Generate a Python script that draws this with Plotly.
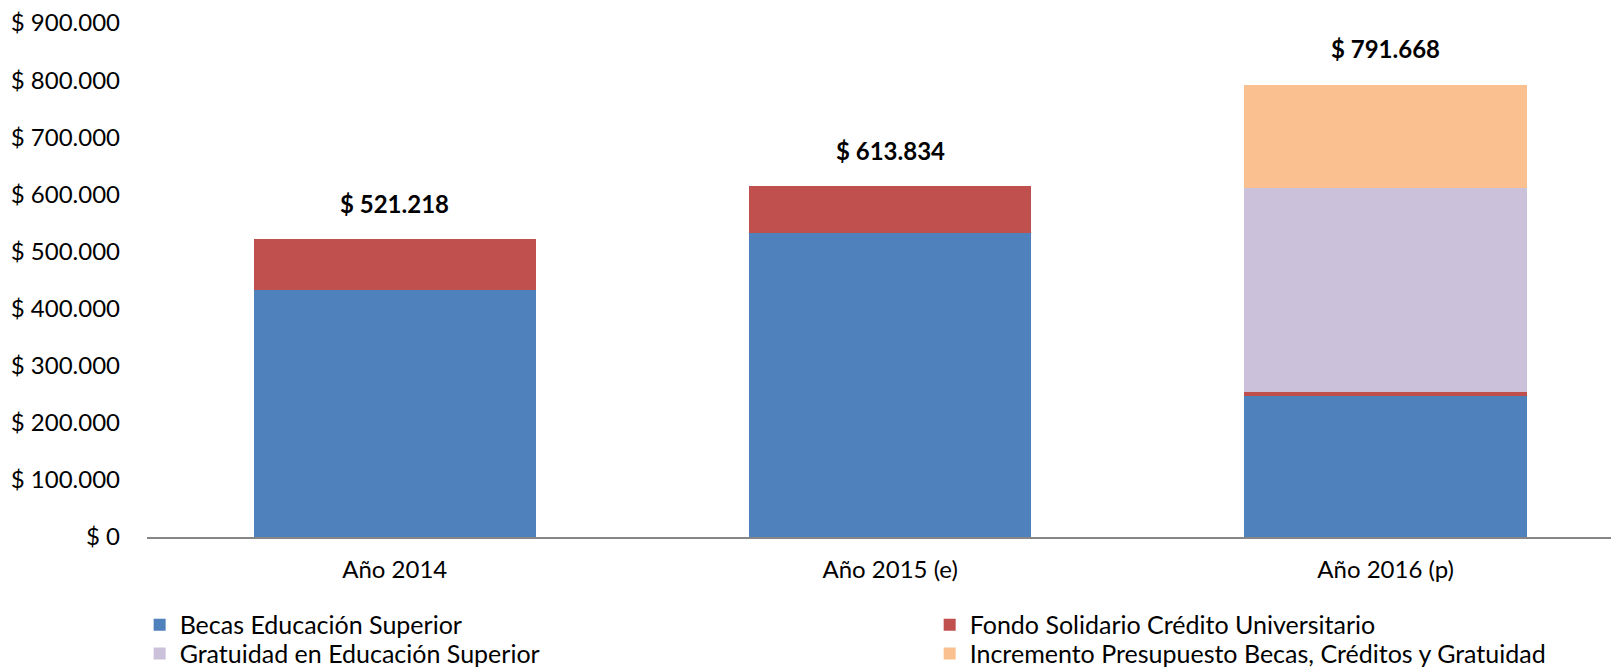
import plotly.graph_objects as go

categories = ["Año 2014", "Año 2015 (e)", "Año 2016 (p)"]
becas = [432870, 532500, 247000]
fondo = [88348, 81334, 7000]
gratuidad = [0, 0, 357700]
incremento = [0, 0, 179968]
series_names = [
    "Becas Educación Superior",
    "Fondo Solidario Crédito Universitario",
    "Gratuidad en Educación Superior",
    "Incremento Presupuesto Becas, Créditos y Gratuidad",
]
colors = ["#4F81BD", "#C0504D", "#CCC1DA", "#FAC090"]
tick_vals = [0, 100000, 200000, 300000, 400000, 500000, 600000, 700000, 800000, 900000]
tick_text = ["$ 0", "$ 100.000", "$ 200.000", "$ 300.000", "$ 400.000", "$ 500.000",
             "$ 600.000", "$ 700.000", "$ 800.000", "$ 900.000"]

FONT = "Lato"
LEG_FS = 25
legend_ids = ["legend", "legend2", "legend3", "legend4"]
# legend slot positions (paper coords): two columns, two rows
leg_x = [-0.005, 0.5317, -0.005, 0.5317]
leg_y = [-0.171, -0.171, -0.227, -0.227]

fig = go.Figure()
for name, vals, col, lid in zip(series_names, [becas, fondo, gratuidad, incremento], colors, legend_ids):
    fig.add_trace(go.Bar(x=categories, y=vals, name=name, marker_color=col,
                         marker_line_width=0, width=0.57, legend=lid))

totals = [sum(v) for v in zip(becas, fondo, gratuidad, incremento)]
for c, t in zip(categories, totals):
    fig.add_annotation(x=c, y=t, text="$ " + f"{t:,}".replace(",", "."),
                       showarrow=False, yanchor="middle", yshift=36,
                       font=dict(family=FONT, size=24, color="#000000", weight="bold"))

legend_layout = {}
for lid, lx, ly in zip(legend_ids, leg_x, leg_y):
    legend_layout[lid] = dict(x=lx, xanchor="left", y=ly, yanchor="middle",
                              font=dict(family=FONT, size=LEG_FS, color="#000000"),
                              bgcolor="rgba(0,0,0,0)", borderwidth=0)

fig.update_layout(
    barmode="stack",
    width=1611, height=661,
    margin=dict(l=139, r=0, t=14.6, b=131.5, autoexpand=False),
    paper_bgcolor="white", plot_bgcolor="white",
    font=dict(family=FONT, size=24, color="#000000"),
    xaxis=dict(range=[-0.5, 2.471], showline=True, linecolor="#868686", linewidth=2,
               ticks="", tickfont=dict(size=24), ticklabelstandoff=10),
    yaxis=dict(range=[0, 900000], tickvals=tick_vals, ticktext=tick_text,
               showgrid=False, zeroline=False, showline=False,
               tickfont=dict(size=24), ticklabelstandoff=26,
               ticklabeloverflow="allow"),
    showlegend=True,
    **legend_layout,
)
fig.write_html("out.html")
